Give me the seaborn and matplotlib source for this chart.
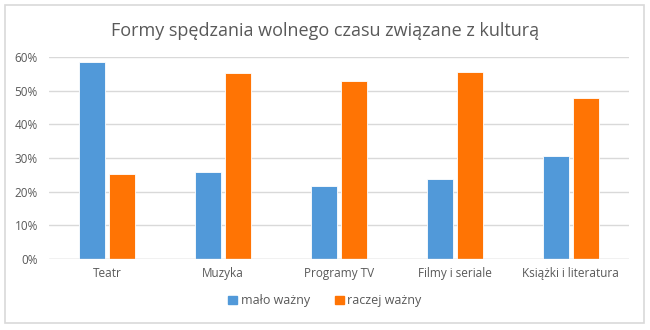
import matplotlib
matplotlib.use("Agg")
import matplotlib.pyplot as plt
import matplotlib.patches as mpatches
import seaborn as sns
import pandas as pd

categories = ["Teatr", "Muzyka", "Programy TV", "Filmy i seriale", "Książki i literatura"]
malo_wazny = [0.586, 0.258, 0.217, 0.237, 0.307]
raczej_wazny = [0.252, 0.554, 0.529, 0.556, 0.479]
series_names = ["mało ważny", "raczej ważny"]
colors = ["#5199D9", "#FF7404"]

df = pd.DataFrame({
    "kategoria": categories * 2,
    "wartosc": malo_wazny + raczej_wazny,
    "seria": [series_names[0]] * len(categories) + [series_names[1]] * len(categories),
})

sns.set_theme(style="white")
plt.rcParams["font.family"] = ["Open Sans", "DejaVu Sans"]

fig = plt.figure(figsize=(6.5, 3.3), dpi=100)
ax = fig.add_axes([0.0754, 0.215, 0.892, 0.612])

sns.barplot(data=df, x="kategoria", y="wartosc", hue="seria", order=categories,
            hue_order=series_names, palette=colors, width=0.51, gap=0.12,
            edgecolor="white", linewidth=0.6, legend=False, ax=ax, saturation=1)

ax.set_ylim(0, 0.6)
ax.set_xlim(-0.5, len(categories) - 0.5)
ax.set_yticks([0, 0.1, 0.2, 0.3, 0.4, 0.5, 0.6])
ax.set_yticklabels([f"{int(round(v * 100))}%" for v in ax.get_yticks()])
ax.yaxis.grid(True, color="#D9D9D9", linewidth=1)
ax.set_axisbelow(True)
for s in ax.spines.values():
    s.set_visible(False)
ax.axhline(0, color="#D9D9D9", linewidth=1, zorder=1)
ax.set_xlabel("")
ax.set_ylabel("")
ax.tick_params(axis="both", length=0, labelsize=8.5, colors="#595959")
ax.tick_params(axis="x", pad=6)
ax.tick_params(axis="y", pad=8)

fig.text(0.5, 0.905, "Formy spędzania wolnego czasu związane z kulturą",
         ha="center", va="center", fontsize=13, color="#595959")

handles = [mpatches.Patch(color=c, label=n) for c, n in zip(colors, series_names)]
fig.legend(handles=handles, loc="center", bbox_to_anchor=(0.5, 0.088), ncol=2,
           frameon=False, fontsize=9, handlelength=0.7, handleheight=0.7,
           handletextpad=0.3, columnspacing=2.0, labelcolor="#595959")

border = mpatches.Rectangle((0.008, 0.022), 0.982, 0.962, transform=fig.transFigure,
                            fill=False, edgecolor="#D9D9D9", linewidth=1.2)
fig.patches.append(border)

fig.savefig("out.png", dpi=100)
